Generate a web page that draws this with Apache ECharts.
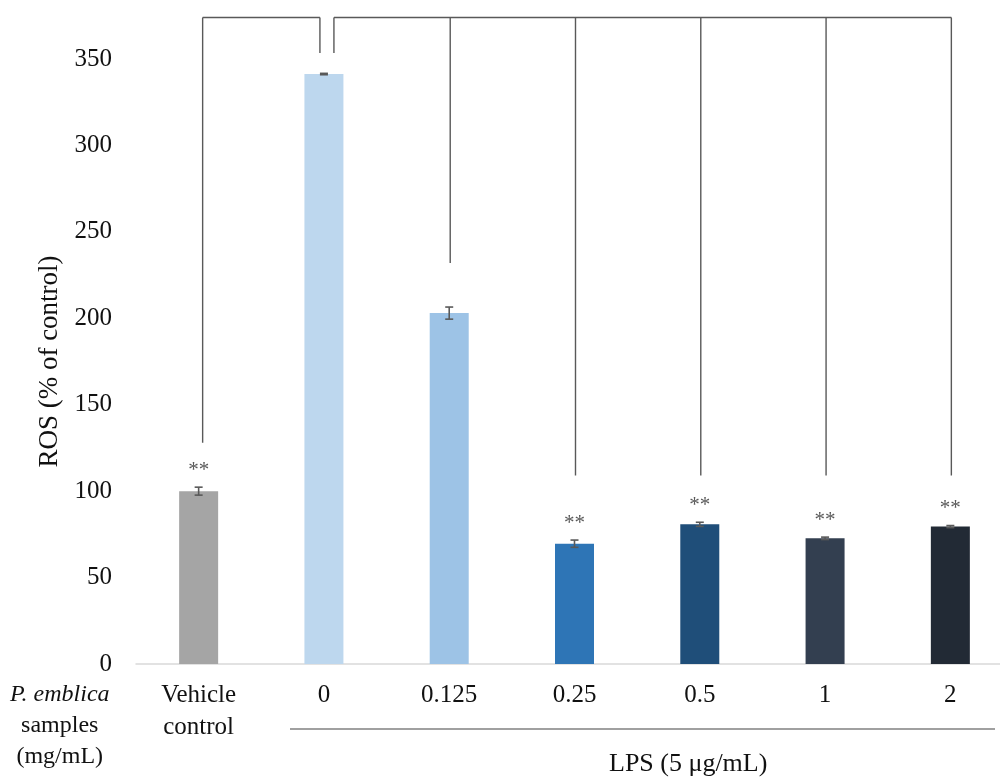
<!DOCTYPE html>
<html>
<head>
<meta charset="utf-8">
<script src="https://cdn.jsdelivr.net/npm/echarts@6/dist/echarts.min.js"></script>
<style>html,body{margin:0;padding:0;background:#fff}#c{width:1000px;height:781px}</style>
</head>
<body>
<div id="c"></div>
<script>
// ---- data ----
const categories = ['Vehicle\ncontrol', '0', '0.125', '0.25', '0.5', '1', '2'];
const rosMean = [100, 341.3, 203, 69.6, 80.8, 72.7, 79.5];
const rosErr = [2.3, 0.4, 3.5, 2.1, 1.2, 0.7, 0.6];
const significance = ['**', '', '', '**', '**', '**', '**'];
const barColors = ['#a5a5a5', '#bdd7ee', '#9dc3e6', '#2e75b6', '#1f4e79', '#333f50', '#222a35'];
const yTicks = { min: 0, max: 350, interval: 50 };
// significance brackets: category indices and the value where each drop line ends
const bracketTopValue = 374;
const brackets = [
  { cats: [0, 1], drops: [128, 353.5] },
  { cats: [1, 2, 3, 4, 5, 6], drops: [353.5, 232, 109, 109, 109, 109] }
];

const FONT = '"Liberation Serif", "Times New Roman", serif';
const chart = echarts.init(document.getElementById('c'), null, { renderer: 'canvas' });

const barData = rosMean.map((v, i) => ({ value: v, itemStyle: { color: barColors[i] } }));
const errData = rosMean.map((v, i) => [i, v, rosErr[i], significance[i]]);

chart.setOption({
  animation: false,
  backgroundColor: '#fff',
  grid: { left: 136, top: 59, width: 877, height: 605, outerBoundsMode: 'none', containLabel: false },
  xAxis: {
    type: 'category',
    data: categories,
    axisLine: { lineStyle: { color: '#d9d9d9', width: 1.5 } },
    axisTick: { show: false },
    axisLabel: { color: '#111', fontFamily: FONT, fontSize: 25, lineHeight: 32, margin: 15, interval: 0 }
  },
  yAxis: {
    type: 'value',
    min: yTicks.min, max: yTicks.max, interval: yTicks.interval,
    axisLine: { show: false },
    axisTick: { show: false },
    splitLine: { show: false },
    axisLabel: { color: '#111', fontFamily: FONT, fontSize: 25, margin: 24 },
    name: 'ROS (% of control)',
    nameLocation: 'middle',
    nameGap: 64,
    nameTextStyle: { color: '#111', fontFamily: FONT, fontSize: 27 }
  },
  series: [
    {
      type: 'bar',
      data: barData,
      barWidth: 39
    },
    {
      type: 'custom',
      data: errData,
      clip: false,
      z: 5,
      renderItem: function (params, api) {
        const i = api.value(0), m = api.value(1), e = api.value(2);
        const top = api.coord([i, m + e]);
        const bot = api.coord([i, m - e]);
        const cap = 4;
        const style = { stroke: '#595959', lineWidth: 1.6 };
        const children = [
          { type: 'line', shape: { x1: top[0], y1: top[1], x2: bot[0], y2: bot[1] }, style },
          { type: 'line', shape: { x1: top[0] - cap, y1: top[1], x2: top[0] + cap, y2: top[1] }, style },
          { type: 'line', shape: { x1: bot[0] - cap, y1: bot[1], x2: bot[0] + cap, y2: bot[1] }, style }
        ];
        const s = significance[params.dataIndex];
        if (s) {
          children.push({
            type: 'text',
            style: { text: s, x: top[0], y: top[1] - 17, align: 'center', verticalAlign: 'middle',
              fill: '#595959', font: '21px ' + FONT }
          });
        }
        return { type: 'group', children };
      }
    },
    {
      type: 'custom',
      data: brackets.map((b, k) => [k]),
      clip: false,
      z: 4,
      renderItem: function (params, api) {
        const b = brackets[params.dataIndex];
        const style = { stroke: '#595959', lineWidth: 1.4 };
        const n = b.cats.length;
        const xs = b.cats.map((c, j) => {
          let x = api.coord([c, 0])[0];
          if (params.dataIndex === 0) x += (j === 0 ? 4 : -4);
          else if (j === 0) x += 10;
          else x += 1;
          return x;
        });
        const yTop = api.coord([0, bracketTopValue])[1];
        const children = [
          { type: 'line', shape: { x1: xs[0], y1: yTop, x2: xs[n - 1], y2: yTop }, style }
        ];
        b.cats.forEach((c, j) => {
          const yb = api.coord([c, b.drops[j]])[1];
          children.push({ type: 'line', shape: { x1: xs[j], y1: yTop, x2: xs[j], y2: yb }, style });
        });
        return { type: 'group', children };
      }
    }
  ],
  graphic: [
    {
      type: 'text', left: 10, top: 679,
      style: {
        text: '{i|P. emblica}\n{n|samples}\n{n|(mg/mL)}',
        align: 'center', lineHeight: 31,
        rich: {
          i: { fontFamily: FONT, fontSize: 24, fontStyle: 'italic', fill: '#111', align: 'center', lineHeight: 31 },
          n: { fontFamily: FONT, fontSize: 24, fill: '#111', align: 'center', lineHeight: 31 }
        }
      }
    },
    {
      type: 'line', shape: { x1: 290, y1: 729, x2: 995, y2: 729 },
      style: { stroke: '#808080', lineWidth: 1.5 }
    },
    {
      type: 'text', left: 609, top: 751,
      style: { text: 'LPS (5 μg/mL)', fontFamily: FONT, fontSize: 26, fill: '#111' }
    }
  ]
});
</script>
</body>
</html>
